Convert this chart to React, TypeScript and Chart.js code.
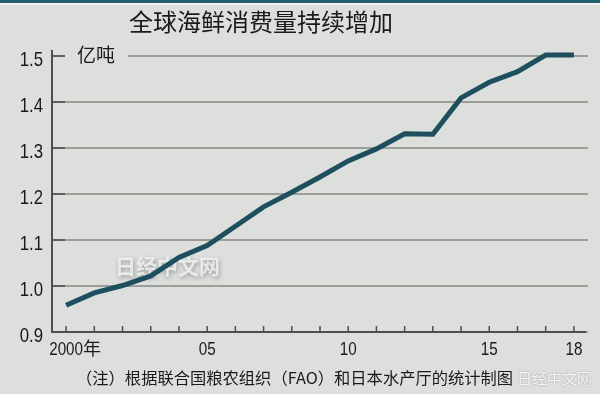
import React, { useEffect, useRef } from "react";
import { Chart, registerables } from "chart.js";

Chart.register(...registerables);

const TITLE = "全球海鲜消费量持续增加";
const UNIT = "亿吨";
const NOTE = "（注）根据联合国粮农组织（FAO）和日本水产厅的统计制图";
const WATERMARK = "日经中文网";

const years = [2000, 2001, 2002, 2003, 2004, 2005, 2006, 2007, 2008, 2009, 2010, 2011, 2012, 2013, 2014, 2015, 2016, 2017, 2018];
const consumption = [0.958, 0.985, 1.001, 1.022, 1.062, 1.088, 1.13, 1.172, 1.204, 1.237, 1.272, 1.298, 1.331, 1.33, 1.409, 1.443, 1.466, 1.502, 1.502];
const yTicks = [0.9, 1.0, 1.1, 1.2, 1.3, 1.4, 1.5];
const xTickYears = [2000, 2005, 2010, 2015, 2018];
const xTickLabels = ["2000年", "05", "10", "15", "18"];

const BG = "#dcdfdb";
const LINE = "#1d4f5e";
const AXIS = "#4d4f4c";
const NUM_FONT = '"Liberation Sans", Arial, sans-serif';
const CJK_FONT = '"Noto Sans CJK SC", "Noto Sans", sans-serif';
const SQUEEZE = 0.8;

function narrowText(ctx: any, text: string, x: number, y: number, align: "left" | "right" | "center") {
  const w = ctx.measureText(text).width * SQUEEZE;
  let sx = x;
  if (align === "right") sx = x - w;
  else if (align === "center") sx = x - w / 2;
  ctx.save();
  ctx.translate(sx, y);
  ctx.scale(SQUEEZE, 1);
  ctx.textAlign = "left";
  ctx.fillText(text, 0, 0);
  ctx.restore();
}

const decorPlugin = {
  id: "decor",
  beforeDraw(chart: any) {
    const ctx = chart.ctx;
    const w = chart.width;
    const h = chart.height;
    ctx.save();
    ctx.fillStyle = BG;
    ctx.fillRect(0, 0, w, h);
    ctx.fillStyle = "#1f5f70";
    ctx.fillRect(0, 0, w, 3);
    ctx.fillStyle = "#f1f3f0";
    ctx.fillRect(0, 3, w, 2);
    ctx.fillStyle = "#1a1a1a";
    ctx.font = `24px ${CJK_FONT}`;
    ctx.textAlign = "center";
    ctx.textBaseline = "alphabetic";
    ctx.fillText(TITLE, 261, 31);
    ctx.restore();
  },
  beforeDatasetsDraw(chart: any) {
    const ctx = chart.ctx;
    const { left, right, top, bottom } = chart.chartArea;
    const xs = chart.scales.x;
    const ys = chart.scales.y;
    ctx.save();
    // gap in top gridline for the unit
    const yTop = ys.getPixelForValue(yTicks[yTicks.length - 1]);
    ctx.fillStyle = BG;
    ctx.fillRect(left + 10, yTop - 3, 66, 6);
    ctx.fillStyle = "#1a1a1a";
    ctx.font = `19px ${CJK_FONT}`;
    ctx.textAlign = "left";
    ctx.textBaseline = "alphabetic";
    ctx.fillText(UNIT, 77, 62);

    // darker stubs at the left of each gridline + y labels
    ctx.strokeStyle = "#5d5f5c";
    ctx.lineWidth = 2;
    ctx.font = `21px ${NUM_FONT}`;
    ctx.fillStyle = "#1a1a1a";
    yTicks.forEach((v) => {
      const py = ys.getPixelForValue(v);
      ctx.beginPath();
      ctx.moveTo(left, py);
      ctx.lineTo(left + 13, py);
      ctx.stroke();
      narrowText(ctx, v.toFixed(1), left - 9, py + 9.5, "right");
    });

    // faint centre watermark
    ctx.font = `bold 21px ${CJK_FONT}`;
    ctx.textAlign = "left";
    ctx.shadowColor = "rgba(80,80,80,0.55)";
    ctx.shadowBlur = 4;
    ctx.shadowOffsetX = 1;
    ctx.shadowOffsetY = 2;
    ctx.fillStyle = "rgba(240,242,239,0.85)";
    ctx.fillText(WATERMARK, 115, 274);
    ctx.shadowColor = "transparent";

    // axes
    ctx.strokeStyle = AXIS;
    ctx.lineWidth = 2;
    ctx.beginPath();
    ctx.moveTo(left, top - 6);
    ctx.lineTo(left, bottom);
    ctx.lineTo(right - 2, bottom);
    ctx.stroke();

    // x ticks pointing up
    ctx.lineWidth = 1.5;
    years.forEach((yr) => {
      const px = xs.getPixelForValue(yr);
      ctx.beginPath();
      ctx.moveTo(px, bottom);
      ctx.lineTo(px, bottom - 6);
      ctx.stroke();
    });

    // x labels
    ctx.fillStyle = "#1a1a1a";
    ctx.font = `19px ${NUM_FONT}`;
    ctx.textBaseline = "alphabetic";
    xTickYears.forEach((yr, i) => {
      const px = xs.getPixelForValue(yr);
      const label = xTickLabels[i];
      const digits = label.replace(/[^0-9]/g, "");
      ctx.font = `19px ${NUM_FONT}`;
      const dw = ctx.measureText(digits).width * SQUEEZE;
      narrowText(ctx, digits, px - dw / 2, bottom + 23, "left");
      const rest = label.slice(digits.length);
      if (rest) {
        ctx.font = `18px ${CJK_FONT}`;
        ctx.textAlign = "left";
        ctx.fillText(rest, px + dw / 2, bottom + 23);
      }
    });

    // footer note
    ctx.font = `16.3px ${CJK_FONT}`;
    ctx.fillStyle = "#1a1a1a";
    ctx.textAlign = "left";
    ctx.fillText(NOTE, 76, 384);

    ctx.restore();
  },
  afterDraw(chart: any) {
    const ctx = chart.ctx;
    ctx.save();
    ctx.font = `15px ${CJK_FONT}`;
    ctx.textAlign = "left";
    ctx.textBaseline = "alphabetic";
    ctx.shadowColor = "rgba(80,80,80,0.5)";
    ctx.shadowBlur = 2;
    ctx.fillStyle = "rgba(250,250,250,0.9)";
    ctx.fillText(WATERMARK, 517, 384);
    ctx.restore();
  },
};

export default function App() {
  const ref = useRef<HTMLCanvasElement | null>(null);
  useEffect(() => {
    if (!ref.current) return;
    const chart = new Chart(ref.current, {
      type: "line",
      data: {
        datasets: [
          {
            data: years.map((y, i) => ({ x: y, y: consumption[i] })),
            borderColor: LINE,
            borderWidth: 5,
            pointRadius: 0,
            tension: 0,
            borderJoinStyle: "miter",
            borderCapStyle: "butt",
            clip: false,
          } as any,
        ],
      },
      options: {
        responsive: false,
        animation: false,
        events: [],
        layout: { padding: { left: 0, right: 12, top: 56, bottom: 62 } },
        plugins: { legend: { display: false }, tooltip: { enabled: false }, title: { display: false } },
        scales: {
          x: {
            type: "linear",
            min: 1999.5,
            max: 2018.5,
            grid: { display: false },
            border: { display: false },
            ticks: { display: false },
            afterFit: (s: any) => {
              s.height = 0;
            },
          },
          y: {
            min: 0.9,
            max: 1.5,
            border: { display: false },
            grid: { color: "#9c9e9a", lineWidth: 2, drawTicks: false, tickLength: 0 },
            afterBuildTicks: (s: any) => {
              s.ticks = yTicks.map((v) => ({ value: v }));
            },
            ticks: { display: false },
            afterFit: (s: any) => {
              s.width = 52;
            },
          },
        },
      },
      plugins: [decorPlugin],
    } as any);
    return () => chart.destroy();
  }, []);
  return (
    <div style={{ position: "fixed", left: 0, top: 0, width: 600, height: 394 }}>
      <canvas ref={ref} width={600} height={394} style={{ width: 600, height: 394, display: "block" }} />
    </div>
  );
}
